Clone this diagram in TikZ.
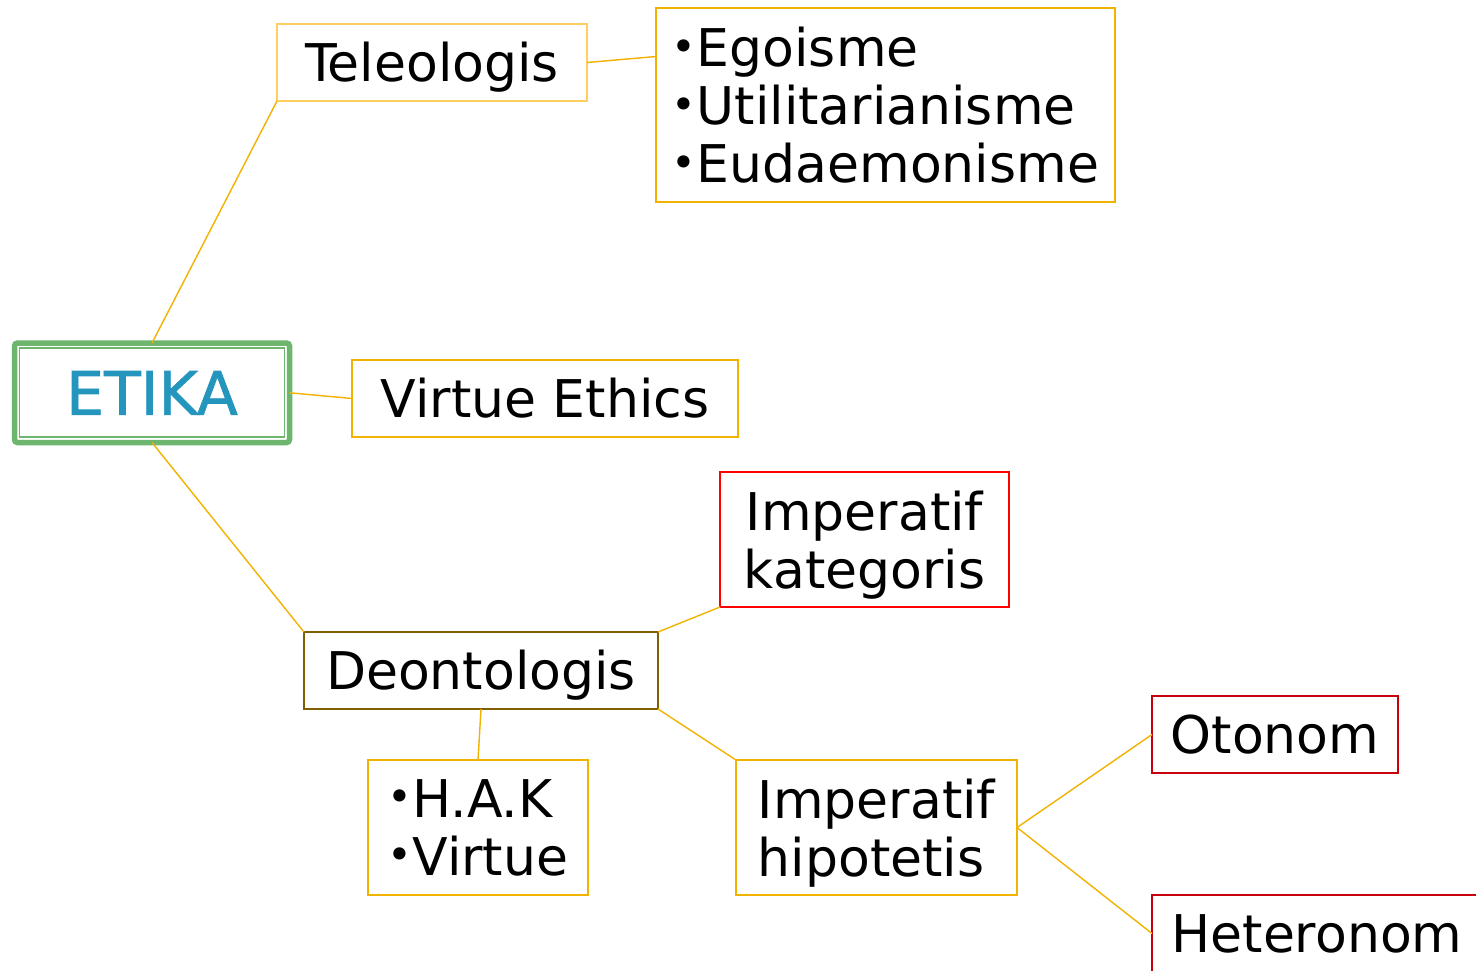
\documentclass[tikz,border=0pt]{standalone}
\usepackage{fontspec}
\setmainfont{DejaVu Sans}
\newfontfamily\etikafont[FakeBold=1.2]{DejaVu Sans}
\usetikzlibrary{calc}
\definecolor{orng}{RGB}{242,178,0}
\definecolor{lorng}{RGB}{255,206,96}
\definecolor{brwn}{RGB}{127,96,0}
\definecolor{brightred}{RGB}{255,0,0}
\definecolor{darkred}{RGB}{200,0,10}
\definecolor{etgreen}{RGB}{110,182,110}
\definecolor{ettext}{RGB}{36,150,190}
\newcommand{\bul}{\raisebox{5.5pt}{\fontsize{42}{42}\selectfont•}}
\begin{document}
\begin{tikzpicture}[x=1pt,y=-1pt,
  box/.style={draw, line width=2pt, outer sep=0pt, inner sep=0pt,
    font=\fontsize{52}{58}\selectfont, text=black},
  oneline/.style={box, text height=38pt, text depth=0pt, minimum height=77pt},
  multiline/.style={box, text depth=0pt},
  conn/.style={draw=orng, line width=1.4pt}]
\clip (0,0) rectangle (1476,970);
\fill[white] (0,0) rectangle (1476,970);

% ETIKA
\node (etika) [draw=etgreen, line width=5.5pt, rounded corners=3pt, outer sep=0pt,
  minimum width=275pt, minimum height=99.5pt, inner sep=0pt,
  text height=44pt, text depth=0pt, font=\etikafont\fontsize{60}{66}\selectfont, text=ettext]
  at (152,392.75) {ETIKA};
\draw[etgreen, line width=1.6pt] ($(etika.north west)+(5,5)$) rectangle ($(etika.south east)+(-5,-5.5)$);

% level 1
\node (tel) [oneline, draw=lorng, minimum width=310pt] at (432,62.5) {Teleologis};
\node (virt) [oneline, draw=orng, minimum width=386pt] at (545,398.5) {Virtue Ethics};
\node (deon) [oneline, draw=brwn, minimum width=354pt] at (481,670.5) {Deontologis};

% level 2
\node (ego) [multiline, draw=orng, minimum width=459pt, minimum height=194pt,
  align=left] at (885.5,105)
  {\bul Egoisme\\\bul Utilitarianisme\\\bul Eudaemonisme};
\node (kat) [multiline, draw=brightred, minimum width=289pt, minimum height=135pt,
  align=center] at (864.5,539.5) {Imperatif\\kategoris};
\node (hak) [multiline, draw=orng, minimum width=220pt, minimum height=135pt,
  align=left] at (478,827.5) {\bul H.A.K\\\bul Virtue};
\node (hip) [multiline, draw=orng, minimum width=281pt, minimum height=135pt,
  align=left] at (876.5,827.5) {Imperatif\\hipotetis};

% level 3
\node (oto) [oneline, draw=darkred, minimum width=246pt] at (1275,734.5) {Otonom};
\node (het) [oneline, draw=darkred, minimum width=330pt] at (1317,933.5) {Heteronom};

% connectors
\draw[conn] (etika.north) -- (tel.south west);
\draw[conn] (etika.east) -- (virt.west);
\draw[conn] (etika.south) -- (deon.north west);
\draw[conn] (tel.east) -- ($(ego.north west)!0.25!(ego.south west)$);
\draw[conn] (deon.north east) -- (kat.south west);
\draw[conn] (deon.south) -- (hak.north);
\draw[conn] (deon.south east) -- (hip.north west);
\draw[conn] (hip.east) -- (oto.west);
\draw[conn] (hip.east) -- (het.west);
\end{tikzpicture}
\end{document}
